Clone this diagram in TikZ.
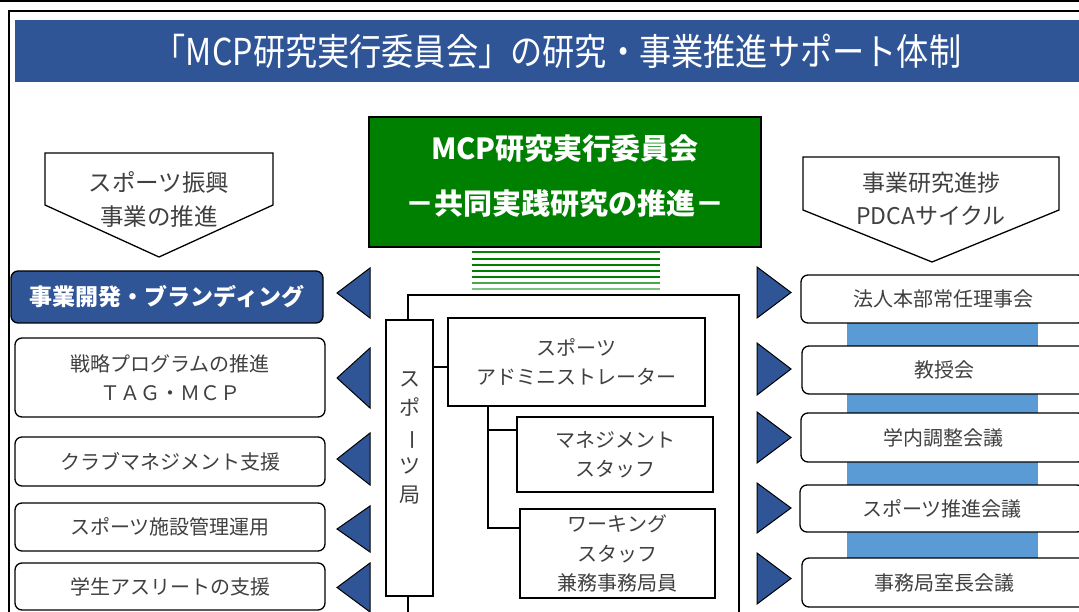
\documentclass[tikz,border=0pt]{standalone}
\usepackage{fontspec}
\setmainfont{Noto Sans CJK JP}
\definecolor{dblue}{HTML}{2F5597}
\definecolor{gtxt}{HTML}{404040}
\definecolor{mgreen}{HTML}{008000}
\definecolor{lblue}{HTML}{5B9BD5}
\definecolor{sgreen1}{HTML}{0A7F0A}
\definecolor{sgreen2}{HTML}{4CA64C}
\definecolor{sgreen3}{HTML}{7FBF7F}
\begin{document}
\begin{tikzpicture}[x=1pt,y=-1pt,
  box/.style={draw=black, line width=1.3pt, fill=white, text=gtxt,
    font=\fontsize{20}{29.5}\selectfont, align=center, inner sep=0pt},
  rbox/.style={box, rounded corners=7pt},
  tri/.style={draw=black, line width=1pt, fill=dblue, line join=miter},
  penta/.style={draw=black, line width=1.3pt, fill=white},
  ptext/.style={text=gtxt, font=\fontsize{23.5}{34}\selectfont, align=center, inner sep=0pt},
  stripe/.style={line width=2pt},
  conn/.style={draw=black, line width=1.3pt}
]
\clip (0,0) rectangle (1079,612);
\fill[white] (0,0) rectangle (1079,612);
% outer lines
\draw[line width=2pt] (0,1) -- (1079,1);
\draw[line width=2pt] (8.5,700) -- (8.5,11) -- (1100,11);
% title bar
\node[fill=dblue, minimum width=1085pt, minimum height=62pt, inner sep=0pt, text=white,
  font=\fontsize{37}{40}\selectfont] (title) at (557.5,51)
  {\scalebox{0.87}[1]{「MCP研究実行委員会」の研究・事業推進サポート体制}};
% green committee box
\node[draw=black, line width=1.3pt, fill=mgreen, text=white, minimum width=392pt,
  minimum height=130pt, inner sep=0pt, align=center,
  font=\bfseries\fontsize{29}{55}\selectfont] (mcp) at (565,182)
  {MCP研究実行委員会\\－共同実践研究の推進－\\[-40pt]\mbox{}};
% green stripes
\foreach \yy/\cc in {252.5/sgreen1,259/mgreen,265/mgreen,271/mgreen,277.3/mgreen,283.3/sgreen2,289.3/sgreen3}
  \draw[stripe, \cc] (472,\yy) -- (660,\yy);
% pentagons
\draw[penta] (45,153) -- (273,153) -- (273,205) -- (159,257) -- (45,205) -- cycle;
\node[ptext] (lp) at (159,199.5) {スポーツ振興\\事業の推進};
\draw[penta] (803,157) -- (1059,157) -- (1059,210) -- (932,262) -- (803,210) -- cycle;
\node[ptext, font=\fontsize{23}{33}\selectfont] (rp) at (931,198.5) {事業研究進捗\\PDCAサイクル};
% left boxes
\node[rbox, fill=dblue, text=white, font=\bfseries\fontsize{23}{28}\selectfont,
  minimum width=312pt, minimum height=52pt] (la) at (167,297) {事業開発・ブランディング};
\node[rbox, minimum width=310pt, minimum height=79pt] (lb) at (170,377.5) {戦略プログラムの推進\\ＴＡＧ・ＭＣＰ};
\node[rbox, minimum width=310pt, minimum height=49pt] (lc) at (170,461.5) {クラブマネジメント支援};
\node[rbox, minimum width=310pt, minimum height=48pt] (ld) at (170,527) {スポーツ施設管理運用};
\node[rbox, minimum width=310pt, minimum height=47pt] (le) at (170,586.5) {学生アスリートの支援};
% left triangles
\foreach \ya/\yb in {268/318,348/408,433/485,506/552,563/612}
  \draw[tri] (370,\ya) -- (337,{(\ya+\yb)/2}) -- (370,\yb) -- cycle;
% right band
\fill[lblue] (847,310) rectangle (1038,570);
% right boxes
\node[rbox, minimum width=284pt, minimum height=48pt] (ra) at (943,299) {法人本部常任理事会};
\node[rbox, minimum width=284pt, minimum height=48pt] (rb) at (944,370) {教授会};
\node[rbox, minimum width=284pt, minimum height=49pt] (rc) at (943,437.5) {学内調整会議};
\node[rbox, minimum width=284pt, minimum height=47pt] (rd) at (942,508.5) {スポーツ推進会議};
\node[rbox, minimum width=284pt, minimum height=49pt] (re) at (944,582.5) {事務局室長会議};
% right triangles
\foreach \ya/\yb in {267/318,343/395,412/463,483/533,553/604}
  \draw[tri] (757,\ya) -- (791,{(\ya+\yb)/2}) -- (757,\yb) -- cycle;
% middle frame
\draw[line width=1.3pt] (408,295) rectangle (739,660);
\node[box, minimum width=47pt, minimum height=276pt] (kyoku) at (409.5,458) {};
\node[text=gtxt, font=\fontsize{21}{29}\selectfont, align=center, inner sep=0pt] (kyokutext)
  at (409.5,438) {ス\\ポ\\\rotatebox[origin=c]{-90}{ー}\\ツ\\局};
\node[box, minimum width=257pt, minimum height=88pt] (admin) at (576.5,362) {スポーツ\\アドミニストレーター};
\node[box, minimum width=196pt, minimum height=75pt] (manage) at (615,454.5) {マネジメント\\スタッフ};
\node[box, minimum width=195pt, minimum height=89pt] (work) at (617.5,553.5) {ワーキング\\スタッフ\\兼務事務局員};
% connectors
\coordinate (c1) at ([yshift=-5pt]admin.west);
\draw[conn] (kyoku.east |- c1) -- (c1);
\coordinate (tx) at (488,0);
\coordinate (tm) at (488,430);
\coordinate (tw) at (488,528);
\draw[conn] (admin.south -| tx) -- (tw) -- (tw -| work.west);
\draw[conn] (tm) -- (tm -| manage.west);
\end{tikzpicture}
\end{document}
